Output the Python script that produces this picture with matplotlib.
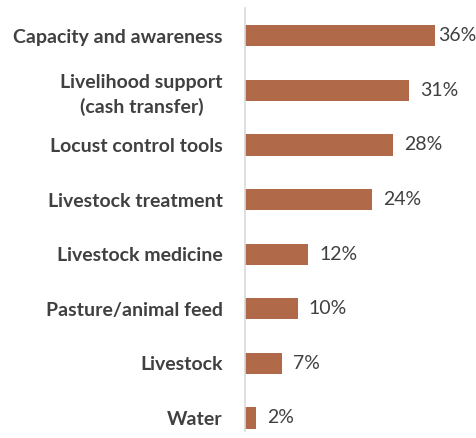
import numpy as np
import matplotlib.pyplot as plt

# ---- data ----
categories = ['Capacity and awareness', 'Livelihood support\n(cash transfer)',
              'Locust control tools', 'Livestock treatment', 'Livestock medicine',
              'Pasture/animal feed', 'Livestock', 'Water']
values = [36, 31, 28, 24, 12, 10, 7, 2]

bar_color = '#B06A4A'
text_color = '#404040'

plt.rcParams['font.family'] = ['Lato', 'DejaVu Sans']

fig = plt.figure(figsize=(4.77, 4.38), dpi=100)
ax = fig.add_axes([245/477, 1 - 431/438, 1 - 245/477, (431 - 8)/438])

y = np.arange(len(categories))
ax.barh(y, values, height=0.39, color=bar_color)

ax.set_xlim(0, 232/5.28)
ax.set_ylim(7.24, -0.51)

ax.set_yticks(y)
ax.set_yticklabels(categories, fontsize=14, fontweight='bold', color=text_color,
                   linespacing=1.4, multialignment='center')
ax.tick_params(axis='y', length=0, pad=16)
ax.set_xticks([])

for sp in ['top', 'right', 'bottom']:
    ax.spines[sp].set_visible(False)
ax.spines['left'].set_color('#D9D9D9')
ax.spines['left'].set_linewidth(1.2)

for yi, v in zip(y, values):
    off = 2 if v == max(values) else 8
    ax.annotate(f'{v}%', (v, yi), xytext=(off, 0), textcoords='offset points',
                va='center', ha='left', fontsize=14, color=text_color)

fig.savefig('out.png', dpi=100)
